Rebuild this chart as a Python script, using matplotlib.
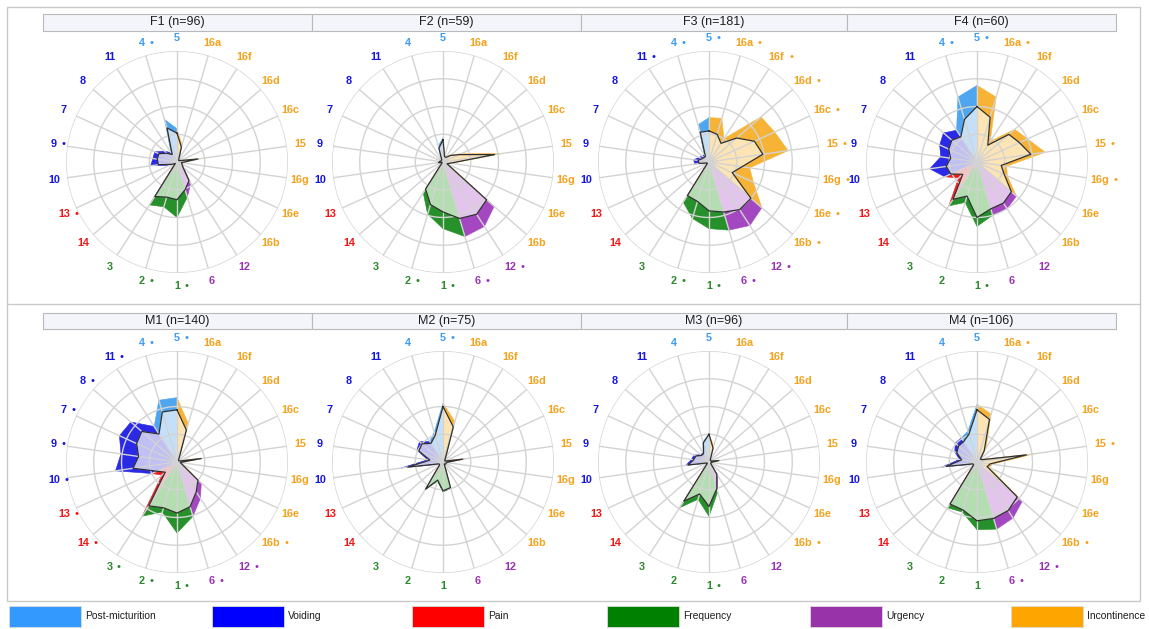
import numpy as np
import matplotlib.pyplot as plt
from matplotlib.patches import Rectangle
from matplotlib.lines import Line2D

plt.rcParams['font.family'] = ['Liberation Sans', 'DejaVu Sans']

W, H = 1149, 629

# Symptom items, clockwise from the top
items = ["5", "16a", "16f", "16d", "16c", "15", "16g", "16e", "16b",
         "12", "6", "1", "2", "3", "14", "13", "10", "9", "7", "8", "11", "4"]

domains = ["Post-micturition", "Voiding", "Pain", "Frequency", "Urgency", "Incontinence"]
domain_items = {
    "Post-micturition": ["5", "4"],
    "Voiding": ["11", "8", "7", "9", "10"],
    "Pain": ["13", "14"],
    "Frequency": ["3", "2", "1"],
    "Urgency": ["6", "12"],
    "Incontinence": ["16a", "16f", "16d", "16c", "15", "16g", "16e", "16b"],
}

groups = ["F1", "F2", "F3", "F4", "M1", "M2", "M3", "M4"]
group_n = [96, 59, 181, 60, 140, 75, 96, 106]

# Percent of patients per item (outer = any symptom, inner = bothersome)
f1_outer = [30, 16, 4, 3, 4, 21, 5, 6, 8, 23, 33, 50, 42, 46, 3, 7, 24, 22, 22, 15, 10, 40]
f1_inner = [26, 14, 3, 2, 3, 19, 4, 5, 7, 20, 26, 34, 33, 37, 2, 5, 17, 18, 18, 12, 8, 32]
f2_outer = [22, 6, 6, 10, 18, 53, 8, 5, 61, 69, 70, 60, 49, 33, 2, 2, 5, 4, 3, 3, 3, 15]
f2_inner = [20, 5, 5, 9, 16, 47, 7, 4, 52, 56, 53, 45, 40, 29, 1, 1, 4, 3, 2, 2, 2, 13]
f3_outer = [40, 41, 25, 62, 65, 72, 37, 44, 63, 68, 64, 60, 53, 43, 3, 3, 13, 14, 10, 8, 8, 35]
f3_inner = [28, 26, 20, 33, 45, 49, 30, 23, 50, 51, 47, 44, 37, 36, 2, 2, 9, 10, 7, 6, 6, 28]
f4_outer = [69, 61, 22, 45, 50, 62, 27, 30, 47, 50, 50, 58, 38, 47, 22, 32, 43, 33, 37, 40, 34, 61]
f4_inner = [50, 42, 18, 38, 42, 49, 22, 27, 41, 44, 44, 50, 32, 40, 17, 26, 28, 24, 28, 30, 27, 40]
m1_outer = [58, 36, 4, 3, 3, 24, 4, 6, 29, 39, 51, 64, 47, 58, 18, 25, 56, 51, 57, 55, 38, 58]
m1_inner = [47, 30, 3, 2, 2, 22, 3, 5, 25, 32, 42, 46, 43, 47, 14, 20, 40, 35, 40, 42, 30, 47]
m2_outer = [53, 38, 5, 3, 3, 20, 4, 4, 4, 3, 25, 27, 18, 30, 5, 5, 38, 14, 26, 28, 22, 28]
m2_inner = [50, 33, 4, 2, 2, 18, 3, 3, 3, 2, 24, 26, 17, 29, 4, 4, 32, 12, 24, 25, 20, 25]
m3_outer = [25, 15, 3, 3, 3, 10, 3, 3, 3, 14, 28, 49, 35, 49, 3, 3, 21, 16, 15, 10, 10, 19]
m3_inner = [25, 13, 2, 2, 2, 9, 2, 2, 2, 13, 25, 40, 30, 42, 2, 2, 19, 14, 13, 9, 9, 18]
m4_outer = [52, 45, 15, 5, 6, 53, 14, 12, 54, 60, 63, 61, 47, 49, 5, 5, 32, 16, 22, 26, 26, 29]
m4_inner = [47, 40, 12, 4, 5, 45, 12, 10, 48, 52, 53, 53, 45, 45, 4, 4, 28, 14, 20, 22, 22, 26]

# Items flagged as significant in each group
f1_flags = ["4", "9", "13", "2", "1"]
f2_flags = ["12", "6", "2", "1"]
f3_flags = ["5", "16a", "16f", "16d", "16c", "15", "16g", "16e", "16b",
            "12", "6", "2", "1", "4", "11"]
f4_flags = ["4", "5", "16a", "15", "16g", "1"]
m1_flags = ["5", "4", "11", "8", "7", "9", "10", "13", "14", "3", "2", "1",
            "6", "12", "16b"]
m2_flags = ["5"]
m3_flags = ["16b", "1"]
m4_flags = ["16a", "15", "16b", "12", "6"]

outer_sets = [f1_outer, f2_outer, f3_outer, f4_outer, m1_outer, m2_outer, m3_outer, m4_outer]
inner_sets = [f1_inner, f2_inner, f3_inner, f4_inner, m1_inner, m2_inner, m3_inner, m4_inner]
flag_sets = [f1_flags, f2_flags, f3_flags, f4_flags, m1_flags, m2_flags, m3_flags, m4_flags]

dark = {"Post-micturition": "#4ea6f0", "Voiding": "#2a2ae6", "Pain": "#ee1f1f",
        "Frequency": "#26902a", "Urgency": "#a448c2", "Incontinence": "#f7b336"}
pale = {"Post-micturition": "#c4e0f8", "Voiding": "#c0c0f4", "Pain": "#f7c2c2",
        "Frequency": "#b4ddb2", "Urgency": "#e2c4ec", "Incontinence": "#fde4b4"}
text_col = {"Post-micturition": "#3b9cf2", "Voiding": "#1616dc", "Pain": "#f01616",
            "Frequency": "#2b8a2b", "Urgency": "#9a32b8", "Incontinence": "#f5a31e"}
legend_col = {"Post-micturition": "#3399ff", "Voiding": "#0000ff", "Pain": "#ff0000",
              "Frequency": "#008000", "Urgency": "#9933aa", "Incontinence": "#ffa500"}

item_dom = {it: d for d, its in domain_items.items() for it in its}

fig = plt.figure(figsize=(W / 100, H / 100), dpi=100)
fig.patch.set_facecolor("white")


def fx(x):
    return x / W


def fy(y):
    return 1 - y / H


# Outer frame and row divider
fig.patches.append(Rectangle((fx(7), fy(601)), fx(1140) - fx(7), fy(7) - fy(601),
                             transform=fig.transFigure, fill=False,
                             edgecolor="#c9c9c9", lw=1.0))
fig.lines.append(Line2D([fx(7), fx(1140)], [fy(304), fy(304)],
                        transform=fig.transFigure, color="#c9c9c9", lw=1.0))

# Panel title strips
col_edges = [43, 312, 581, 847, 1116]
row_strip = [(14, 31), (313, 329)]
for gi, (g, n) in enumerate(zip(groups, group_n)):
    r, c = divmod(gi, 4)
    x0, x1 = col_edges[c], col_edges[c + 1]
    y0, y1 = row_strip[r]
    fig.patches.append(Rectangle((fx(x0), fy(y1)), fx(x1) - fx(x0), fy(y0) - fy(y1),
                                 transform=fig.transFigure, facecolor="#f3f5fa",
                                 edgecolor="#b9b9b9", lw=0.8))
    fig.text(fx((x0 + x1) / 2), fy((y0 + y1) / 2), f"{g} (n={n})",
             ha="center", va="center", fontsize=9, color="#1e1e1e")

centers_x = [177, 443, 709, 977]
centers_y = [162, 462]
R = 111

theta = np.deg2rad(np.arange(len(items)) * 360.0 / len(items))
ring_t = np.linspace(0, 2 * np.pi, 361)

for gi in range(len(groups)):
    r, c = divmod(gi, 4)
    cx, cy = centers_x[c], centers_y[r]
    ax = fig.add_axes([fx(cx - R), fy(cy + R), 2 * R / W, 2 * R / H], projection="polar")
    ax.set_theta_zero_location("N")
    ax.set_theta_direction(-1)
    ax.set_ylim(0, 100)
    ax.grid(False)
    ax.set_xticks([])
    ax.set_yticks([])
    ax.spines["polar"].set_visible(False)
    ax.patch.set_alpha(0)

    outer = outer_sets[gi]
    inner = inner_sets[gi]
    nitem = len(items)
    # each wedge between neighbouring spokes takes the colour of the later item
    for k in range(nitem):
        j = k - 1
        dom = item_dom[items[k]]
        ax.fill([0, theta[j], theta[k]], [0, outer[j], outer[k]],
                facecolor=dark[dom], edgecolor=dark[dom], lw=0.4, zorder=1)
    for k in range(nitem):
        j = k - 1
        dom = item_dom[items[k]]
        ax.fill([0, theta[j], theta[k]], [0, inner[j], inner[k]],
                facecolor=pale[dom], edgecolor=pale[dom], lw=0.4, zorder=2)

    # grid on top of the fills
    for rv in [25, 50, 75, 100]:
        ax.plot(ring_t, np.full_like(ring_t, rv), color="#d3d3d3", lw=1.0, zorder=3)
    for t in theta:
        ax.plot([t, t], [0, 100], color="#d3d3d3", lw=1.0, zorder=3)

    # outline of the inner profile
    tt = np.append(theta, theta[0])
    ax.plot(tt, np.append(inner, inner[0]), color="#303030", lw=0.9, zorder=4)

    flags = flag_sets[gi]
    for t, it in zip(theta, items):
        col = text_col[item_dom[it]]
        ax.text(t, 112, it, ha="center", va="center", fontsize=7.8,
                fontweight="bold", color=col, clip_on=False)
        if it in flags:
            off = (3.1 * len(it) + 6) * 0.72
            ax.annotate("•", xy=(t, 112), xytext=(off, 0), textcoords="offset points",
                        ha="center", va="center", fontsize=8, color=col,
                        annotation_clip=False)

# Legend strip
leg_x = [9, 212, 412, 607, 810, 1011]
for d, x0 in zip(domains, leg_x):
    fig.patches.append(Rectangle((fx(x0), fy(627)), 72 / W, 21 / H,
                                 transform=fig.transFigure, facecolor=legend_col[d],
                                 edgecolor="#dcdcdc", lw=0.6))
    fig.text(fx(x0 + 76), fy(616), d, ha="left", va="center", fontsize=7.4,
             family=["Liberation Sans Narrow", "Liberation Sans", "DejaVu Sans"],
             color="#1e1e1e")

fig.savefig("out.png", dpi=100, facecolor="white")
